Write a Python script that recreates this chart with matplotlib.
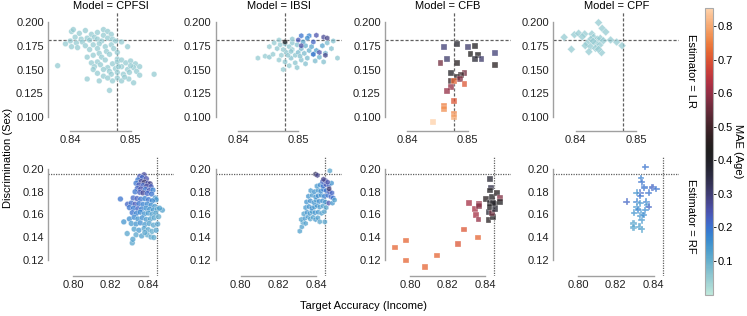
import numpy as np
import matplotlib
matplotlib.use("Agg")
import matplotlib.pyplot as plt
import seaborn as sns

plt.rcParams['font.family'] = ['Liberation Sans', 'DejaVu Sans']

models = ["CPFSI", "IBSI", "CFB", "CPF"]
estimators = ["LR", "RF"]
markers = {("LR", "CPFSI"): "o", ("LR", "IBSI"): "h", ("LR", "CFB"): "s", ("LR", "CPF"): "D",
           ("RF", "CPFSI"): "o", ("RF", "IBSI"): "h", ("RF", "CFB"): "s", ("RF", "CPF"): "P"}

# reference lines (baseline accuracy / discrimination)
ref_acc = {"LR": 0.8478, "RF": 0.8448}
ref_disc = {"LR": 0.181, "RF": 0.1955}

# (accuracy, discrimination, mae) per point
lr_cpfsi = [
    (0.8402, 0.190, 0.05), (0.8415, 0.188, 0.05), (0.8425, 0.191, 0.05), (0.8435, 0.187, 0.05),
    (0.8445, 0.189, 0.05), (0.8455, 0.192, 0.05), (0.8462, 0.190, 0.05), (0.8468, 0.187, 0.05),
    (0.8455, 0.186, 0.05), (0.8440, 0.184, 0.05), (0.8428, 0.183, 0.05), (0.8418, 0.182, 0.05),
    (0.8408, 0.184, 0.05), (0.8400, 0.180, 0.05), (0.8410, 0.178, 0.05), (0.8420, 0.179, 0.05),
    (0.8432, 0.181, 0.05), (0.8445, 0.182, 0.05), (0.8452, 0.180, 0.05), (0.8462, 0.183, 0.05),
    (0.8470, 0.182, 0.05), (0.8475, 0.180, 0.05), (0.8448, 0.177, 0.05), (0.8438, 0.176, 0.05),
    (0.8425, 0.175, 0.05), (0.8412, 0.173, 0.05), (0.8402, 0.174, 0.05), (0.8392, 0.177, 0.05),
    (0.8432, 0.171, 0.05), (0.8445, 0.172, 0.05), (0.8458, 0.174, 0.05), (0.8468, 0.176, 0.05),
    (0.8472, 0.172, 0.05), (0.8460, 0.169, 0.05), (0.8448, 0.167, 0.05), (0.8438, 0.165, 0.05),
    (0.8452, 0.163, 0.05), (0.8465, 0.166, 0.05), (0.8478, 0.168, 0.05), (0.8485, 0.179, 0.05),
    (0.8495, 0.174, 0.05), (0.8478, 0.161, 0.05), (0.8458, 0.160, 0.05), (0.8445, 0.158, 0.05),
    (0.8435, 0.157, 0.05), (0.8428, 0.163, 0.05),
    (0.8440, 0.153, 0.05), (0.8450, 0.155, 0.05), (0.8462, 0.152, 0.05), (0.8470, 0.156, 0.05),
    (0.8478, 0.158, 0.05), (0.8485, 0.160, 0.05), (0.8492, 0.157, 0.05), (0.8500, 0.159, 0.05),
    (0.8508, 0.156, 0.05), (0.8515, 0.153, 0.05), (0.8505, 0.152, 0.05), (0.8495, 0.150, 0.05),
    (0.8485, 0.153, 0.05), (0.8475, 0.151, 0.05), (0.8465, 0.148, 0.05), (0.8455, 0.150, 0.05),
    (0.8445, 0.146, 0.05), (0.8455, 0.143, 0.05), (0.8468, 0.145, 0.05), (0.8478, 0.147, 0.05),
    (0.8488, 0.145, 0.05), (0.8498, 0.147, 0.05), (0.8510, 0.148, 0.05), (0.8515, 0.144, 0.05),
    (0.8478, 0.141, 0.05), (0.8470, 0.138, 0.05), (0.8485, 0.138, 0.05), (0.8497, 0.140, 0.05),
    (0.8505, 0.136, 0.05), (0.8490, 0.142, 0.05), (0.8462, 0.141, 0.05), (0.8448, 0.138, 0.05),
    (0.8428, 0.140, 0.05), (0.8480, 0.153, 0.05), (0.8500, 0.154, 0.05), (0.8438, 0.150, 0.05),
    (0.8379, 0.154, 0.05), (0.8539, 0.145, 0.05), (0.8465, 0.128, 0.05), (0.8405, 0.192, 0.05),
]

lr_ibsi = [
    (0.8433, 0.162, 0.05), (0.8445, 0.164, 0.05), (0.8452, 0.163, 0.06), (0.8458, 0.166, 0.05),
    (0.8465, 0.172, 0.06), (0.8470, 0.176, 0.05), (0.8478, 0.177, 0.07), (0.8485, 0.174, 0.06),
    (0.8490, 0.171, 0.05), (0.8480, 0.168, 0.06), (0.8472, 0.165, 0.05), (0.8468, 0.160, 0.05),
    (0.8478, 0.158, 0.06), (0.8488, 0.162, 0.07), (0.8495, 0.165, 0.06), (0.8500, 0.168, 0.08),
    (0.8505, 0.172, 0.09), (0.8512, 0.175, 0.1), (0.8498, 0.176, 0.07), (0.8490, 0.178, 0.06),
    (0.8508, 0.179, 0.12), (0.8518, 0.170, 0.1), (0.8525, 0.166, 0.12), (0.8515, 0.162, 0.08),
    (0.8505, 0.160, 0.07), (0.8495, 0.157, 0.06), (0.8485, 0.154, 0.05), (0.8475, 0.150, 0.05),
    (0.8498, 0.152, 0.06), (0.8512, 0.156, 0.07), (0.8528, 0.159, 0.08), (0.8535, 0.163, 0.1),
    (0.8542, 0.158, 0.07), (0.8530, 0.170, 0.13), (0.8540, 0.175, 0.12), (0.8548, 0.178, 0.08),
    (0.8555, 0.172, 0.07), (0.8545, 0.167, 0.1), (0.8565, 0.162, 0.06), (0.8460, 0.178, 0.05),
    (0.8452, 0.174, 0.05), (0.8483, 0.165, 0.06), (0.8503, 0.164, 0.07), (0.8522, 0.174, 0.12),
    (0.8558, 0.180, 0.07), (0.8468, 0.181, 0.05), (0.8490, 0.182, 0.06), (0.8475, 0.171, 0.05),
    (0.8510, 0.167, 0.08), (0.8488, 0.169, 0.06),
    (0.8505, 0.1855, 0.2), (0.8518, 0.1855, 0.18), (0.8530, 0.186, 0.25), (0.8542, 0.184, 0.27),
    (0.8548, 0.183, 0.28), (0.8500, 0.181, 0.24), (0.8525, 0.179, 0.22), (0.8505, 0.175, 0.26),
    (0.8535, 0.168, 0.25), (0.8545, 0.165, 0.28), (0.8525, 0.166, 0.2), (0.8515, 0.183, 0.16),
    (0.8478, 0.179, 0.42),
]

lr_cfb = [
    (0.8461, 0.1733, 0.30), (0.8483, 0.1765, 0.39), (0.8501, 0.1733, 0.31), (0.8512, 0.1751, 0.42),
    (0.8505, 0.1663, 0.43), (0.8517, 0.1656, 0.42), (0.8512, 0.1614, 0.38), (0.8523, 0.1614, 0.31),
    (0.8546, 0.1670, 0.30), (0.8546, 0.1544, 0.45), (0.8466, 0.1607, 0.31), (0.8455, 0.1572, 0.56),
    (0.8483, 0.1565, 0.45), (0.8472, 0.1467, 0.40), (0.8495, 0.1460, 0.56), (0.8489, 0.1439, 0.48),
    (0.8483, 0.1424, 0.45), (0.8488, 0.1403, 0.58), (0.8472, 0.1382, 0.48), (0.8477, 0.1376, 0.72),
    (0.8495, 0.1347, 0.70), (0.8472, 0.1319, 0.60), (0.8466, 0.1277, 0.60), (0.8478, 0.1172, 0.70),
    (0.8461, 0.1116, 0.75), (0.8461, 0.1088, 0.77), (0.8478, 0.1032, 0.76), (0.8478, 0.1003, 0.80),
    (0.8443, 0.0947, 0.85),
]

lr_cpf = [
    (0.8381, 0.1839, 0.05), (0.8393, 0.1713, 0.05), (0.8398, 0.1866, 0.05), (0.8405, 0.1881, 0.05),
    (0.8415, 0.1874, 0.05), (0.8427, 0.1874, 0.05), (0.8438, 0.1993, 0.05), (0.8444, 0.1933, 0.05),
    (0.8450, 0.1895, 0.05), (0.8430, 0.1839, 0.05), (0.8436, 0.1818, 0.05), (0.8441, 0.1828, 0.05),
    (0.8425, 0.1818, 0.05), (0.8419, 0.1776, 0.05), (0.8416, 0.1751, 0.05), (0.8433, 0.1776, 0.05),
    (0.8440, 0.1758, 0.05), (0.8446, 0.1803, 0.05), (0.8425, 0.1740, 0.05), (0.8433, 0.1723, 0.05),
    (0.8422, 0.1687, 0.05), (0.8443, 0.1677, 0.05), (0.8438, 0.1713, 0.05), (0.8468, 0.1789, 0.05),
    (0.8477, 0.1751, 0.05), (0.8458, 0.1811, 0.05), (0.8429, 0.1797, 0.05), (0.8411, 0.1845, 0.05),
]

rf_cpfsi = [
    (0.8378, 0.1950, 0.26), (0.8355, 0.1935, 0.24), (0.8368, 0.1925, 0.22), (0.8390, 0.1915, 0.25),
    (0.8345, 0.1905, 0.20), (0.8362, 0.1890, 0.27), (0.8380, 0.1885, 0.30), (0.8398, 0.1875, 0.25),
    (0.8410, 0.1870, 0.28), (0.8335, 0.1875, 0.20), (0.8350, 0.1860, 0.24), (0.8372, 0.1855, 0.22),
    (0.8392, 0.1850, 0.26), (0.8415, 0.1845, 0.23), (0.8342, 0.1830, 0.22), (0.8360, 0.1825, 0.25),
    (0.8385, 0.1820, 0.20), (0.8405, 0.1810, 0.24), (0.8425, 0.1815, 0.18), (0.8330, 0.1800, 0.20),
    (0.8355, 0.1795, 0.23), (0.8372, 0.1790, 0.27), (0.8395, 0.1785, 0.22), (0.8418, 0.1780, 0.20),
    (0.8438, 0.1745, 0.15), (0.8442, 0.1730, 0.14),
    (0.8252, 0.1736, 0.20), (0.8320, 0.1745, 0.22), (0.8340, 0.1740, 0.23), (0.8360, 0.1735, 0.20),
    (0.8382, 0.1740, 0.18), (0.8402, 0.1730, 0.20), (0.8422, 0.1720, 0.17), (0.8290, 0.1690, 0.22),
    (0.8310, 0.1700, 0.21), (0.8330, 0.1690, 0.24), (0.8350, 0.1695, 0.20), (0.8372, 0.1688, 0.18),
    (0.8395, 0.1692, 0.17), (0.8415, 0.1680, 0.16), (0.8435, 0.1670, 0.14), (0.8300, 0.1660, 0.20),
    (0.8322, 0.1655, 0.19), (0.8345, 0.1650, 0.22), (0.8365, 0.1648, 0.18), (0.8388, 0.1655, 0.16),
    (0.8408, 0.1645, 0.15), (0.8428, 0.1640, 0.14), (0.8448, 0.1645, 0.12), (0.8475, 0.1638, 0.13),
    (0.8460, 0.1655, 0.13), (0.8315, 0.1615, 0.20), (0.8338, 0.1610, 0.18), (0.8358, 0.1620, 0.17),
    (0.8380, 0.1605, 0.15), (0.8400, 0.1612, 0.14), (0.8420, 0.1600, 0.13), (0.8440, 0.1610, 0.12),
    (0.8270, 0.1534, 0.15), (0.8300, 0.1560, 0.16), (0.8325, 0.1575, 0.17), (0.8345, 0.1560, 0.15),
    (0.8368, 0.1570, 0.16), (0.8390, 0.1555, 0.14), (0.8412, 0.1560, 0.13), (0.8432, 0.1570, 0.12),
    (0.8455, 0.1580, 0.11), (0.8310, 0.1520, 0.14), (0.8335, 0.1515, 0.15), (0.8358, 0.1525, 0.16),
    (0.8382, 0.1510, 0.14), (0.8405, 0.1520, 0.13), (0.8428, 0.1505, 0.12), (0.8450, 0.1515, 0.12),
    (0.8288, 0.1431, 0.12), (0.8325, 0.1470, 0.13), (0.8350, 0.1460, 0.14), (0.8378, 0.1475, 0.13),
    (0.8400, 0.1465, 0.12), (0.8420, 0.1450, 0.11), (0.8442, 0.1460, 0.12), (0.8335, 0.1420, 0.12),
    (0.8365, 0.1410, 0.13), (0.8395, 0.1420, 0.11), (0.8415, 0.1400, 0.12), (0.8430, 0.1396, 0.11),
    (0.8315, 0.1348, 0.12), (0.8318, 0.1380, 0.13), (0.8382, 0.1440, 0.12),
]

rf_ibsi = [
    (0.8314, 0.1452, 0.13), (0.8325, 0.1490, 0.13), (0.8330, 0.1530, 0.12), (0.8322, 0.1555, 0.12),
    (0.8340, 0.1565, 0.14), (0.8345, 0.1520, 0.13), (0.8358, 0.1580, 0.14), (0.8370, 0.1560, 0.12),
    (0.8385, 0.1575, 0.13), (0.8398, 0.1555, 0.14), (0.8410, 0.1570, 0.13), (0.8420, 0.1535, 0.12),
    (0.8447, 0.1534, 0.12), (0.8335, 0.1605, 0.13), (0.8352, 0.1620, 0.15), (0.8368, 0.1610, 0.14),
    (0.8380, 0.1625, 0.13), (0.8395, 0.1615, 0.15), (0.8412, 0.1620, 0.14), (0.8430, 0.1610, 0.13),
    (0.8445, 0.1625, 0.12), (0.8345, 0.1660, 0.14), (0.8362, 0.1670, 0.15), (0.8378, 0.1655, 0.16),
    (0.8392, 0.1665, 0.14), (0.8405, 0.1680, 0.15), (0.8420, 0.1665, 0.14), (0.8438, 0.1675, 0.13),
    (0.8455, 0.1660, 0.12), (0.8350, 0.1710, 0.15), (0.8370, 0.1720, 0.16), (0.8388, 0.1705, 0.15),
    (0.8402, 0.1725, 0.14), (0.8418, 0.1715, 0.16), (0.8435, 0.1720, 0.15), (0.8450, 0.1710, 0.14),
    (0.8468, 0.1700, 0.25), (0.8488, 0.1700, 0.14), (0.8360, 0.1760, 0.15), (0.8380, 0.1770, 0.14),
    (0.8398, 0.1755, 0.15), (0.8412, 0.1765, 0.16), (0.8428, 0.1770, 0.15), (0.8445, 0.1760, 0.18),
    (0.8462, 0.1770, 0.20), (0.8480, 0.1755, 0.22), (0.8492, 0.1745, 0.20), (0.8499, 0.1727, 0.13),
    (0.8372, 0.1810, 0.14), (0.8392, 0.1800, 0.15), (0.8410, 0.1815, 0.14), (0.8425, 0.1805, 0.16),
    (0.8440, 0.1820, 0.18), (0.8455, 0.1810, 0.20), (0.8472, 0.1800, 0.24), (0.8485, 0.1790, 0.22),
    (0.8405, 0.1850, 0.14), (0.8422, 0.1860, 0.16), (0.8438, 0.1850, 0.20), (0.8452, 0.1865, 0.24),
    (0.8468, 0.1855, 0.22), (0.8483, 0.1876, 0.15), (0.8435, 0.1890, 0.22), (0.8450, 0.1900, 0.26),
    (0.8462, 0.1885, 0.25), (0.8440, 0.1910, 0.28), (0.8398, 0.1955, 0.32), (0.8408, 0.1945, 0.28),
    (0.8474, 0.1985, 0.12), (0.8470, 0.1825, 0.30),
]

rf_cfb = [
    (0.7920, 0.1307, 0.72), (0.7977, 0.1369, 0.72), (0.7977, 0.1194, 0.72), (0.8080, 0.1134, 0.72),
    (0.8142, 0.1238, 0.72), (0.8254, 0.1336, 0.70), (0.8288, 0.1467, 0.70), (0.8361, 0.1396, 0.72),
    (0.8315, 0.1698, 0.62), (0.8347, 0.1647, 0.62), (0.8352, 0.1594, 0.62), (0.8368, 0.1692, 0.60),
    (0.8364, 0.1556, 0.60), (0.8368, 0.1674, 0.58), (0.8418, 0.1549, 0.45), (0.8418, 0.1620, 0.38),
    (0.8430, 0.1837, 0.35), (0.8427, 0.1911, 0.38), (0.8427, 0.1810, 0.42), (0.8405, 0.1736, 0.45),
    (0.8423, 0.1703, 0.40), (0.8436, 0.1756, 0.42), (0.8441, 0.1579, 0.42), (0.8436, 0.1614, 0.55),
    (0.8453, 0.1689, 0.42), (0.8450, 0.1650, 0.38), (0.8462, 0.1786, 0.45), (0.8477, 0.1742, 0.58),
    (0.8477, 0.1707, 0.42), (0.8441, 0.1703, 0.40), (0.8423, 0.1668, 0.42),
]

rf_cpf = [
    (0.8356, 0.2018, 0.20), (0.8333, 0.1920, 0.18), (0.8338, 0.1884, 0.20), (0.8350, 0.1837, 0.20),
    (0.8329, 0.1792, 0.22), (0.8311, 0.1792, 0.15), (0.8329, 0.1763, 0.20), (0.8375, 0.1792, 0.20),
    (0.8395, 0.1837, 0.22), (0.8414, 0.1825, 0.20), (0.8258, 0.1712, 0.22), (0.8311, 0.1712, 0.18),
    (0.8329, 0.1698, 0.15), (0.8361, 0.1712, 0.18), (0.8365, 0.1683, 0.15), (0.8375, 0.1668, 0.22),
    (0.8311, 0.1668, 0.15), (0.8297, 0.1614, 0.15), (0.8334, 0.1614, 0.15), (0.8356, 0.1638, 0.16),
    (0.8329, 0.1585, 0.15), (0.8338, 0.1549, 0.14), (0.8293, 0.1520, 0.12), (0.8293, 0.1484, 0.12),
    (0.8325, 0.1490, 0.13), (0.8338, 0.1469, 0.13), (0.8347, 0.1594, 0.16), (0.8317, 0.1644, 0.17),
]

panels = {("LR", "CPFSI"): lr_cpfsi, ("LR", "IBSI"): lr_ibsi, ("LR", "CFB"): lr_cfb, ("LR", "CPF"): lr_cpf,
          ("RF", "CPFSI"): rf_cpfsi, ("RF", "IBSI"): rf_ibsi, ("RF", "CFB"): rf_cfb, ("RF", "CPF"): rf_cpf}

xlims = {"LR": (0.8363, 0.8572), "RF": (0.7867, 0.8537)}
ylims = {"LR": (0.0853, 0.2105), "RF": (0.1056, 0.2107)}
xticks = {"LR": [0.84, 0.85], "RF": [0.80, 0.82, 0.84]}
yticks = {"LR": [0.100, 0.125, 0.150, 0.175, 0.200], "RF": [0.12, 0.14, 0.16, 0.18, 0.20]}
yfmt = {"LR": "{:.3f}", "RF": "{:.2f}"}
xfmt = "{:.2f}"

cmap = sns.color_palette("icefire", as_cmap=True)
norm = matplotlib.colors.Normalize(vmin=0.0, vmax=0.855)

W, H = 747, 316
fig = plt.figure(figsize=(W / 100, H / 100), dpi=100)

lefts = [48, 215.7, 385, 553.3]
tops = {"LR": 12, "RF": 157}
aw, ah = 126, 119
spine_col = "#a0a0a0"
fs = 8

for est in estimators:
    for j, mod in enumerate(models):
        ax = fig.add_axes([lefts[j] / W, 1 - (tops[est] + ah) / H, aw / W, ah / H])
        pts = np.array(panels[(est, mod)])
        mk = markers[(est, mod)]
        ax.scatter(pts[:, 0], pts[:, 1], c=pts[:, 2], cmap=cmap, norm=norm,
                   marker=mk, s=24 if mk == "P" else 17, alpha=0.75,
                   edgecolors="white", linewidths=0.3, zorder=3)
        if est == "LR":
            dash = dict(ls=(0, (2.5, 1.5)))
        else:
            dash = dict(ls=(0, (1, 1)))
        ax.axvline(ref_acc[est], color="#606060", lw=0.9, zorder=2, **dash)
        ax.axhline(ref_disc[est], color="#606060", lw=0.9, zorder=2, **dash)
        ax.set_xlim(*xlims[est])
        ax.set_ylim(*ylims[est])
        ax.set_xticks(xticks[est])
        ax.set_yticks(yticks[est])
        ax.set_xticklabels([xfmt.format(v) for v in xticks[est]])
        ax.set_yticklabels([yfmt[est].format(v) for v in yticks[est]])
        ax.tick_params(length=0, labelsize=fs, colors="#222222", pad=3)
        for s in ["top", "right"]:
            ax.spines[s].set_visible(False)
        ax.spines["left"].set_bounds(yticks[est][0], yticks[est][-1])
        ax.spines["bottom"].set_bounds(xticks[est][0], xticks[est][-1])
        for s in ["left", "bottom"]:
            ax.spines[s].set_color(spine_col)
            ax.spines[s].set_linewidth(1.0)
        ax.set_facecolor("none")
        if est == "LR":
            ax.set_title("Model = " + mod, fontsize=fs, pad=2)
        if j == 3:
            ax.text(1.05, 0.5, "Estimator = " + est, transform=ax.transAxes,
                    rotation=270, va="center", ha="left", fontsize=fs)

fig.text(8 / W, 0.5, "Discrimination (Sex)", rotation=90, va="center", ha="center", fontsize=fs)
fig.text(364 / W, 1 - 306 / H, "Target Accuracy (Income)", va="center", ha="center", fontsize=fs)

cax = fig.add_axes([704.5 / W, 1 - 294.5 / H, 8.4 / W, 287 / H])
sm = matplotlib.cm.ScalarMappable(norm=norm, cmap=cmap)
cb = fig.colorbar(sm, cax=cax)
cb.set_ticks([0.1, 0.2, 0.3, 0.4, 0.5, 0.6, 0.7, 0.8])
cb.ax.tick_params(labelsize=fs, length=2, width=0.6, pad=1.5)
cb.outline.set_edgecolor("#aaaaaa")
cb.outline.set_linewidth(0.8)
fig.text(738 / W, 1 - 151 / H, "MAE (Age)", rotation=270, va="center", ha="center", fontsize=fs)

fig.savefig("out.png", dpi=100)
